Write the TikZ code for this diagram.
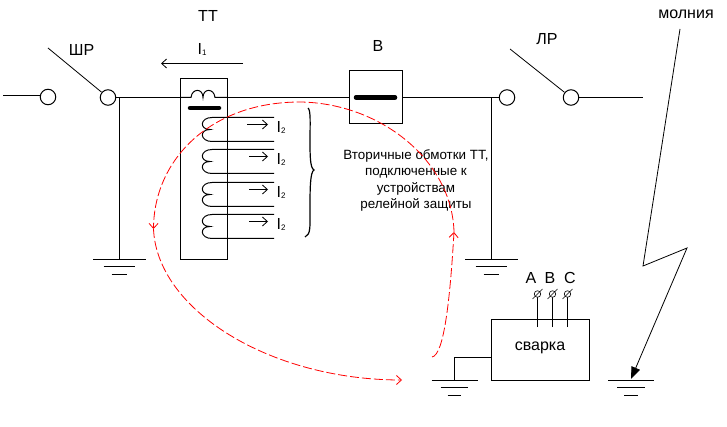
\documentclass[tikz,border=0pt]{standalone}
\usepackage{fontspec}
\setmainfont{Liberation Sans}
\usetikzlibrary{arrows.meta}
\tikzset{
    wire/.style={line width=1pt},
    terminal/.style={draw,circle,fill=white,line width=1pt,minimum size=15.5pt,inner sep=0pt},
    caption/.style={inner sep=0pt,font=\fontsize{16}{18}\selectfont},
    smalltext/.style={inner sep=0pt,font=\fontsize{13.4}{16.1}\selectfont,align=center},
    redline/.style={red,line width=0.8pt,dash pattern=on 9pt off 3pt},
    openarrow/.style={-{Straight Barb[length=5pt,width=9pt]}},
    thickbar/.style={line width=4.5pt,line cap=round}
}
\newcommand{\groundsym}[3]{%
    \draw[wire] (#1-#3,#2) -- (#1+#3,#2);
    \draw[wire] (#1-0.6*#3,#2+7) -- (#1+0.6*#3,#2+7);
    \draw[wire] (#1-0.3*#3,#2+15) -- (#1+0.3*#3,#2+15);
}
\begin{document}
\begin{tikzpicture}[x=1pt,y=-1pt]
    \useasboundingbox (0,0) rectangle (727,427);
    % main line
    \coordinate (linel) at (3,95.5);
    \coordinate (liner) at (643,97.5);
    \node[terminal] (shr1) at (48,97) {};
    \node[terminal] (shr2) at (108,97.5) {};
    \node[terminal] (lr1) at (507,97.5) {};
    \node[terminal] (lr2) at (571,97.5) {};
    \node[draw,wire,minimum width=53pt,minimum height=53pt,inner sep=0pt] (breaker) at (375.5,97.5) {};
    \draw[wire] (linel) -- (shr1.west |- linel);
    \draw[wire] (shr2) -- (breaker);
    \draw[wire] (breaker) -- (lr1);
    \draw[wire] (lr2) -- (liner);
    \coordinate (shrfree) at (48,48);
    \coordinate (lrfree) at (510,49);
    \draw[line width=0.8pt] (shrfree) -- (shr2);
    \draw[line width=0.8pt] (lrfree) -- (lr2);
    \draw[thickbar] (356,97.5) -- (395,97.5);
    % ground of the disconnectors
    \coordinate (gnd1) at (119.5,259.5);
    \coordinate (gnd2) at (491.5,259.5);
    \draw[wire] (119.5,97.5) -- (gnd1);
    \draw[wire] (491.5,97.5) -- (gnd2);
    \groundsym{119.5}{259.5}{26.5}
    \groundsym{491.5}{259.5}{26.5}
    % current transformer
    \node[draw,wire,fill=white,minimum width=47pt,minimum height=181pt,inner sep=0pt] (tt) at (204,169) {};
    \draw[wire] (tt.west |- 0,97.5) -- (191,97.5) .. controls (192,88) and (203,88) .. (203,97.5)
        .. controls (203,88) and (214,88) .. (215,97.5) -- (tt.east |- 0,97.5);
    \draw[thickbar] (190,108) -- (219,108);
    \foreach \y/\xa in {117.5/247,149.5/249,182.5/249,214.5/249}{
        \draw[wire] (274,\y) -- (212,\y) .. controls (200,\y) and (199,\y+12) .. (210,\y+12)
            .. controls (199,\y+12) and (200,\y+24) .. (212,\y+24) -- (274,\y+24);
        \draw[line width=0.8pt,openarrow] (\xa,\y+7) -- (268,\y+7);
        \node[caption] at (281,\y+10) {I\raisebox{-1pt}{\fontsize{8}{9}\selectfont 2}};
    }
    \draw[line width=0.8pt,openarrow] (243,63.5) -- (161,63.5);
    \node[caption] at (202,50) {I\raisebox{-1pt}{\fontsize{8}{9}\selectfont 1}};
    % brace
    \draw[line width=1.2pt] (308,108) .. controls (311,110) and (310,125) .. (310,140)
        .. controls (310,155) and (310,168) .. (314,170)
        .. controls (310,172) and (310,190) .. (310,210)
        .. controls (310,225) and (311,235) .. (305,237);
    % labels
    \node[caption] at (208,16) {ТТ};
    \node[caption] at (81.5,50) {ШР};
    \node[caption] at (378,46) {В};
    \node[caption] at (547,39) {ЛР};
    \node[caption] at (686,14) {молния};
    \node[smalltext] at (416,180.5) {Вторичные обмотки ТТ,\\подключенные к\\устройствам\\релейной защиты};
    % welding
    \node[draw,wire,minimum width=98pt,minimum height=61pt,inner sep=0pt] (weld) at (540.5,350) {};
    \node[caption] at (540,348) {сварка};
    \groundsym{454.5}{380.5}{23}
    \coordinate (gnd3) at (454.5,380.5);
    \draw[wire] (gnd3) |- (weld.west |- 0,357.5);
    \foreach \x/\t/\xt in {537.5/A/531,552.5/B/550,567.5/C/570}{
        \draw[wire] (\x,327) -- (\x,294);
        \node[draw,circle,line width=0.6pt,fill=white,minimum size=6.5pt,inner sep=0pt] (ph\t) at (\x,294) {};
        \draw[line width=0.6pt] (\x-5,299) -- (\x+5,289);
        \node[caption] at (\xt,278) {\t};
    }
    % lightning
    \groundsym{631}{380.5}{23}
    \coordinate (bolt) at (631,379);
    \draw[line width=0.8pt,-{Stealth[length=12pt,width=9pt,inset=0pt]}] (680,29) -- (643,266) -- (687,248) -- (bolt);
    % current path
    \draw[redline,openarrow] (432,357) .. controls (444,355) and (450,300) .. (454,232);
    \draw[redline,openarrow] (454,232) .. controls (452,160) and (380,103) .. (300,102)
        .. controls (210,102) and (154,160) .. (153.5,229);
    \draw[redline,openarrow] (153.5,229) .. controls (157,310) and (270,380) .. (402,380);
\end{tikzpicture}
\end{document}
